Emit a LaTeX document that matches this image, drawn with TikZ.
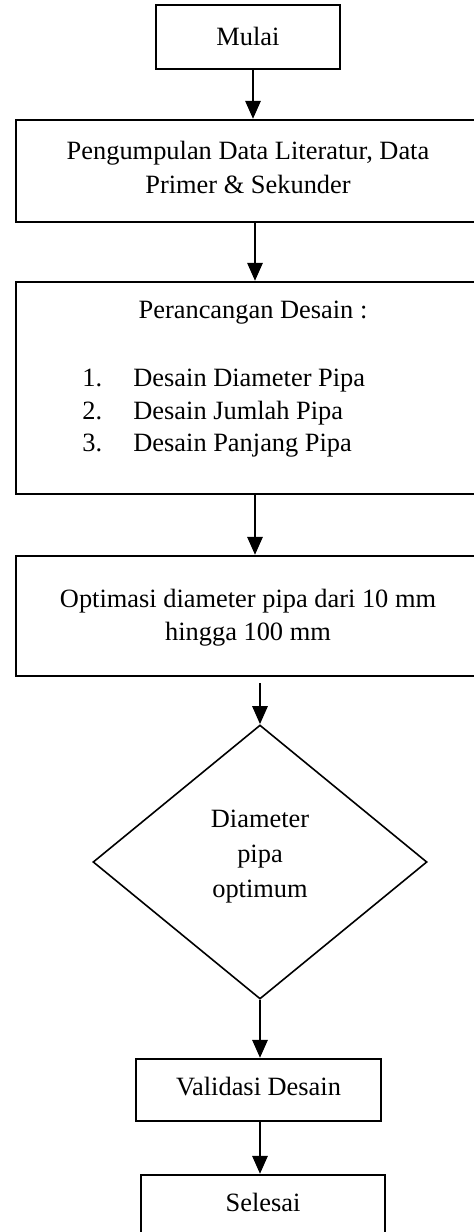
\documentclass[tikz,border=0pt]{standalone}
\usepackage{fontspec}
\setmainfont{Liberation Serif}
\usetikzlibrary{arrows.meta,shapes.geometric}
\begin{document}
\begin{tikzpicture}[x=0.5pt,y=-0.5pt,
  boxst/.style={draw,line width=1.1pt,rectangle,inner sep=0pt},
  txt/.style={inner sep=0pt,font=\fontsize{13.2}{16.5}\selectfont,align=center},
  arr/.style={line width=1.4pt,-{Triangle[length=9pt,width=7.5pt]}}]
\clip (0,0) rectangle (474,1232);
\useasboundingbox (0,0) rectangle (474,1232);
% boxes
\node[boxst,minimum width=92pt,minimum height=32pt] (b1) at (248,37) {};
\node[boxst,minimum width=232pt,minimum height=51pt] (b2) at (248,171) {};
\node[boxst,minimum width=232pt,minimum height=106pt] (b3) at (248,388) {};
\node[boxst,minimum width=232pt,minimum height=60pt] (b4) at (248,616) {};
\node[draw,diamond,line width=0.8pt,inner sep=0pt,minimum width=167pt,minimum height=137pt] (d) at (260,862) {};
\node[boxst,minimum width=122.5pt,minimum height=31pt] (b5) at (258.5,1090) {};
\node[boxst,minimum width=122pt,minimum height=33pt] (b6) at (263,1208) {};
% texts
\node[txt] (t1) at (248,36) {Mulai};
\node[txt] (t2) at (248,167) {Pengumpulan Data Literatur, Data\\[0.5pt]Primer \& Sekunder};
\node[txt] (t3) at (253,313) {Perancangan Desain :};
\node[txt,anchor=base west] (n1) at (82,386) {1.};
\node[txt,anchor=base west] (n2) at (82,419) {2.};
\node[txt,anchor=base west] (n3) at (82,451) {3.};
\node[txt,anchor=base west] (l1) at (133,386) {Desain Diameter Pipa};
\node[txt,anchor=base west] (l2) at (133,419) {Desain Jumlah Pipa};
\node[txt,anchor=base west] (l3) at (133,451) {Desain Panjang Pipa};
\node[txt] (t4) at (248,617.5) {Optimasi diameter pipa dari 10 mm\\hingga 100 mm};
\node[txt,font=\fontsize{13.2}{17.5}\selectfont] (t5) at (260,857) {Diameter\\pipa\\optimum};
\node[txt] (t6) at (258.5,1087) {Validasi Desain};
\node[txt] (t7) at (263,1202) {Selesai};
% connectors
\draw[arr] ([xshift=2.5pt]b1.south) -- ([xshift=2.5pt]b1.south |- b2.north);
\draw[arr] ([xshift=3.5pt]b2.south) -- ([xshift=3.5pt]b2.south |- b3.north);
\draw[arr] ([xshift=3.5pt]b3.south) -- ([xshift=3.5pt]b3.south |- b4.north);
\draw[arr] ([yshift=-3pt]b4.south -| d.north) -- (d.north);
\draw[arr] (d.south) -- (d.south |- b5.north);
\draw[arr] (d.south |- b5.south) -- (d.south |- b6.north);
\end{tikzpicture}
\end{document}
